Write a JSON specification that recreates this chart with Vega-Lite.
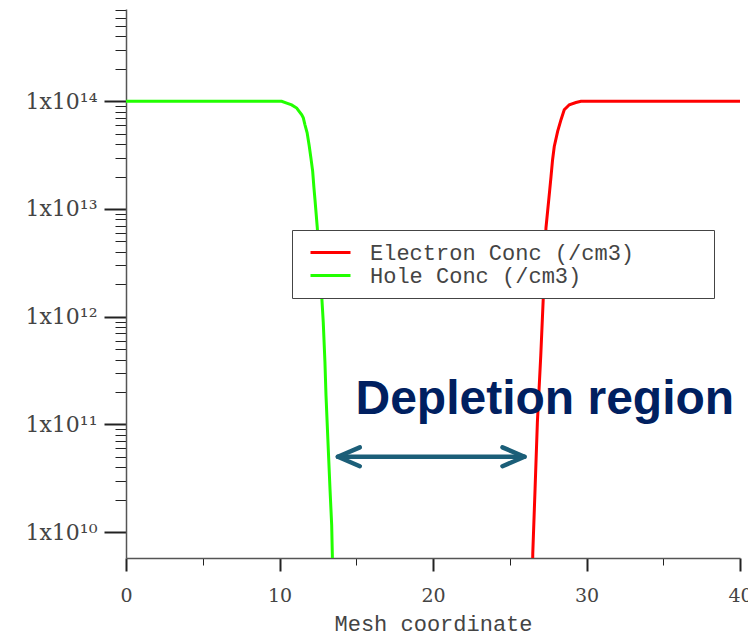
{
  "$schema": "https://vega.github.io/schema/vega-lite/v6.json",
  "width": 614,
  "height": 549,
  "autosize": {"type": "none"},
  "padding": {"left": 126, "top": 9, "right": 8, "bottom": 78},
  "background": "white",
  "config": {"view": {"stroke": null}},
  "datasets": {
    "curves": [
      {"x": 0, "conc": 1e14, "series": "Hole Conc (/cm3)"},
      {"x": 10.14, "conc": 1e14, "series": "Hole Conc (/cm3)"},
      {"x": 10.47, "conc": 9.62e13, "series": "Hole Conc (/cm3)"},
      {"x": 10.79, "conc": 9.27e13, "series": "Hole Conc (/cm3)"},
      {"x": 11.12, "conc": 8.65e13, "series": "Hole Conc (/cm3)"},
      {"x": 11.45, "conc": 7.5e13, "series": "Hole Conc (/cm3)"},
      {"x": 11.55, "conc": 7.03e13, "series": "Hole Conc (/cm3)"},
      {"x": 11.66, "conc": 6.05e13, "series": "Hole Conc (/cm3)"},
      {"x": 11.8, "conc": 5.1e13, "series": "Hole Conc (/cm3)"},
      {"x": 11.93, "conc": 3.9e13, "series": "Hole Conc (/cm3)"},
      {"x": 12.05, "conc": 2.95e13, "series": "Hole Conc (/cm3)"},
      {"x": 12.16, "conc": 2.25e13, "series": "Hole Conc (/cm3)"},
      {"x": 12.24, "conc": 1.6e13, "series": "Hole Conc (/cm3)"},
      {"x": 12.31, "conc": 1.23e13, "series": "Hole Conc (/cm3)"},
      {"x": 12.46, "conc": 6.75e12, "series": "Hole Conc (/cm3)"},
      {"x": 12.75, "conc": 1.56e12, "series": "Hole Conc (/cm3)"},
      {"x": 12.85, "conc": 8.89e11, "series": "Hole Conc (/cm3)"},
      {"x": 12.96, "conc": 3.79e11, "series": "Hole Conc (/cm3)"},
      {"x": 13.03, "conc": 1.85e11, "series": "Hole Conc (/cm3)"},
      {"x": 13.14, "conc": 7.87e10, "series": "Hole Conc (/cm3)"},
      {"x": 13.29, "conc": 2.51e10, "series": "Hole Conc (/cm3)"},
      {"x": 13.40, "conc": 1.156e10, "series": "Hole Conc (/cm3)"},
      {"x": 13.44, "conc": 6.32e9, "series": "Hole Conc (/cm3)"},
      {"x": 13.47, "conc": 3.98e9, "series": "Hole Conc (/cm3)"},
      {"x": 26.48, "conc": 3.98e9, "series": "Electron Conc (/cm3)"},
      {"x": 26.50, "conc": 6.32e9, "series": "Electron Conc (/cm3)"},
      {"x": 26.65, "conc": 2.53e10, "series": "Electron Conc (/cm3)"},
      {"x": 26.80, "conc": 1.047e11, "series": "Electron Conc (/cm3)"},
      {"x": 27.02, "conc": 4.34e11, "series": "Electron Conc (/cm3)"},
      {"x": 27.19, "conc": 1.56e12, "series": "Electron Conc (/cm3)"},
      {"x": 27.36, "conc": 6.7e12, "series": "Electron Conc (/cm3)"},
      {"x": 27.60, "conc": 1.48e13, "series": "Electron Conc (/cm3)"},
      {"x": 27.69, "conc": 2.01e13, "series": "Electron Conc (/cm3)"},
      {"x": 27.79, "conc": 2.87e13, "series": "Electron Conc (/cm3)"},
      {"x": 27.90, "conc": 3.81e13, "series": "Electron Conc (/cm3)"},
      {"x": 28.12, "conc": 5.25e13, "series": "Electron Conc (/cm3)"},
      {"x": 28.34, "conc": 6.75e13, "series": "Electron Conc (/cm3)"},
      {"x": 28.55, "conc": 8.35e13, "series": "Electron Conc (/cm3)"},
      {"x": 28.88, "conc": 9.3e13, "series": "Electron Conc (/cm3)"},
      {"x": 29.31, "conc": 9.75e13, "series": "Electron Conc (/cm3)"},
      {"x": 29.64, "conc": 1e14, "series": "Electron Conc (/cm3)"},
      {"x": 40, "conc": 1e14, "series": "Electron Conc (/cm3)"}
    ],
    "arrow": [{"x1": 13.8, "x2": 25.96, "y": 5e10}],
    "heads": [
      {"x": 13.8, "y": 5e10, "dir": "left"},
      {"x": 25.96, "y": 5e10, "dir": "right"}
    ],
    "note": [{"x": 14.95, "y": 1.25e11, "text": "Depletion region"}]
  },
  "layer": [
    {
      "data": {"name": "curves"},
      "mark": {"type": "line", "strokeWidth": 3, "clip": true},
      "encoding": {
        "x": {
          "field": "x", "type": "quantitative", "title": "Mesh coordinate",
          "scale": {"domain": [0, 40], "nice": false, "zero": false},
          "axis": {
            "values": [0, 2.5, 5, 7.5, 10, 12.5, 15, 17.5, 20, 22.5, 25, 27.5, 30, 32.5, 35, 37.5, 40],
            "grid": false,
            "labelExpr": "datum.value % 10 == 0 ? format(datum.value, 'd') : ''",
            "labelFont": "DejaVu Serif", "labelFontSize": 19, "labelColor": "#444",
            "labelPadding": 15, "labelFlush": false, "labelOverlap": false,
            "tickSize": {"condition": {"test": "datum.value % 10 == 0", "value": 13}, "value": 7},
            "tickWidth": {"condition": {"test": "datum.value % 10 == 0", "value": 2}, "value": 1},
            "tickColor": "#222", "domainColor": "#555", "domainWidth": 1.5,
            "titleFont": "Liberation Mono", "titleFontSize": 22, "titleFontWeight": "normal",
            "titleColor": "#444", "titlePadding": 8
          }
        },
        "y": {
          "field": "conc", "type": "quantitative", "title": null,
          "scale": {"type": "log", "domain": [5.74e9, 7.2e14], "nice": false},
          "axis": {
            "values": [1e10, 2e10, 3e10, 4e10, 5e10, 6e10, 7e10, 8e10, 9e10,
                       1e11, 2e11, 3e11, 4e11, 5e11, 6e11, 7e11, 8e11, 9e11,
                       1e12, 2e12, 3e12, 4e12, 5e12, 6e12, 7e12, 8e12, 9e12,
                       1e13, 2e13, 3e13, 4e13, 5e13, 6e13, 7e13, 8e13, 9e13,
                       1e14, 2e14, 3e14, 4e14, 5e14, 6e14, 7e14],
            "grid": false,
            "labelExpr": "abs(log(datum.value)/LN10 - round(log(datum.value)/LN10)) > 0.001 ? '' : (round(log(datum.value)/LN10) == 10 ? '1x10¹⁰' : round(log(datum.value)/LN10) == 11 ? '1x10¹¹' : round(log(datum.value)/LN10) == 12 ? '1x10¹²' : round(log(datum.value)/LN10) == 13 ? '1x10¹³' : '1x10¹⁴')",
            "labelFont": "DejaVu Serif", "labelFontSize": 22, "labelColor": "#444",
            "labelPadding": 7, "labelOverlap": false, "labelFlush": false,
            "tickSize": {"condition": {"test": "abs(log(datum.value)/LN10 - round(log(datum.value)/LN10)) < 0.001", "value": 22}, "value": 11},
            "tickWidth": {"condition": {"test": "abs(log(datum.value)/LN10 - round(log(datum.value)/LN10)) < 0.001", "value": 2}, "value": 1},
            "tickColor": "#222", "domainColor": "#555", "domainWidth": 1.5
          }
        },
        "color": {
          "field": "series", "type": "nominal",
          "scale": {"domain": ["Electron Conc (/cm3)", "Hole Conc (/cm3)"], "range": ["#ff0000", "#22ff00"]},
          "legend": {
            "orient": "none", "legendX": 166, "legendY": 221, "title": null,
            "labelFont": "Liberation Mono", "labelFontSize": 22, "labelColor": "#444",
            "labelExpr": "datum.label + '\u2800\u2800\u2009\u2800\u2800'",
            "symbolType": "M -2 0 L 2 0", "symbolSize": 400, "symbolStrokeWidth": 3,
            "strokeColor": "#444", "fillColor": "white", "padding": 11,
            "rowPadding": 0, "labelOffset": 28, "symbolOffset": 16, "labelLimit": 0
          }
        }
      }
    },
    {
      "mark": {"type": "rule", "color": "#555", "strokeWidth": 1.5},
      "encoding": {"x": {"datum": 40, "type": "quantitative", "title": "Mesh coordinate", "scale": {"domain": [0, 40], "nice": false, "zero": false}}}
    },
    {
      "data": {"name": "arrow"},
      "mark": {"type": "rule", "color": "#1b5e78", "strokeWidth": 4.5, "strokeCap": "round"},
      "encoding": {
        "x": {"field": "x1", "type": "quantitative", "title": "Mesh coordinate", "scale": {"domain": [0, 40], "nice": false, "zero": false}},
        "x2": {"field": "x2"},
        "y": {"field": "y", "type": "quantitative", "title": null, "scale": {"type": "log", "domain": [5.74e9, 7.2e14], "nice": false}}
      }
    },
    {
      "data": {"name": "heads"},
      "mark": {"type": "point", "filled": false, "stroke": "#1b5e78", "strokeWidth": 4.5, "strokeCap": "round", "strokeJoin": "round", "opacity": 1, "size": 1936},
      "encoding": {
        "x": {"field": "x", "type": "quantitative", "title": "Mesh coordinate", "scale": {"domain": [0, 40], "nice": false, "zero": false}},
        "y": {"field": "y", "type": "quantitative", "title": null, "scale": {"type": "log", "domain": [5.74e9, 7.2e14], "nice": false}},
        "shape": {"field": "dir", "type": "nominal", "legend": null,
                  "scale": {"domain": ["left", "right"], "range": ["M 1 -0.43 L 0 0 L 1 0.43", "M -1 -0.43 L 0 0 L -1 0.43"]}}
      }
    },
    {
      "data": {"name": "note"},
      "mark": {"type": "text", "font": "Liberation Sans", "fontWeight": "bold", "fontSize": 48, "color": "#002060", "align": "left", "baseline": "alphabetic"},
      "encoding": {
        "x": {"field": "x", "type": "quantitative", "title": "Mesh coordinate", "scale": {"domain": [0, 40], "nice": false, "zero": false}},
        "y": {"field": "y", "type": "quantitative", "title": null, "scale": {"type": "log", "domain": [5.74e9, 7.2e14], "nice": false}},
        "text": {"field": "text"}
      }
    }
  ]
}
